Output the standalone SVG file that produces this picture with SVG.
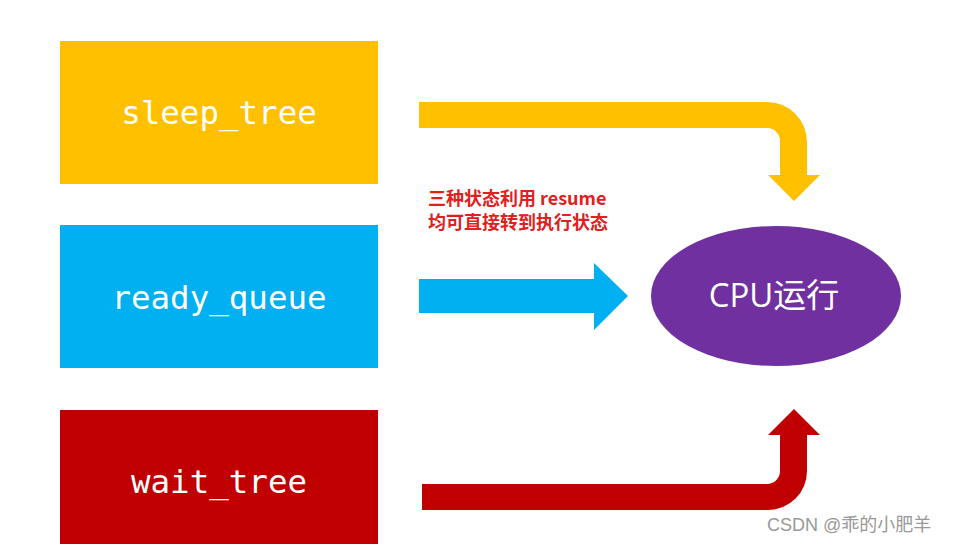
<svg xmlns="http://www.w3.org/2000/svg" width="954" height="544" viewBox="0 0 954 544">
<style>
.lbl{font-family:"DejaVu Sans Mono","Liberation Mono",monospace;font-size:32.5px;fill:#fff;text-anchor:middle}
.note{font-family:"Noto Sans CJK SC","Noto Sans",sans-serif;font-size:18px;font-weight:bold;fill:#E02020}
.cpu{font-family:"Open Sans","Noto Sans CJK SC",sans-serif;font-size:33px;fill:#fff;text-anchor:middle}
.wm{font-family:"Liberation Sans","Noto Sans CJK SC",sans-serif;font-size:18px;fill:#999}
</style>
<rect width="954" height="544" fill="#fff"/>
<g id="sleep_tree">
<rect x="60" y="41" width="318" height="143" fill="#FFC000"/>
<text class="lbl" x="219" y="124">sleep_tree</text>
</g>
<g id="ready_queue">
<rect x="60" y="225" width="318" height="143" fill="#00B0F0"/>
<text class="lbl" x="219" y="309">ready_queue</text>
</g>
<g id="wait_tree">
<rect x="60" y="410" width="318" height="134" fill="#C00000"/>
<text class="lbl" x="219" y="493">wait_tree</text>
</g>
<g id="cpu">
<ellipse cx="776" cy="296" rx="125" ry="70" fill="#7030A0"/>
<text class="cpu" x="774" y="307">CPU运行</text>
</g>
<g id="connectors">
<path d="M419 102 H767 A40 40 0 0 1 807 142 V175 H820 L794 201 L768 175 H780 V142 A13 13 0 0 0 767 128 H419 Z" fill="#FFC000"/>
<path d="M419 279 H594 V263 L628 296 L594 330 V313 H419 Z" fill="#00B0F0"/>
<path d="M422 484 H767 A13 13 0 0 0 780 471 V435 H768 L794 409 L820 435 H807 V471 A39 39 0 0 1 768 510 H422 Z" fill="#C00000"/>
</g>
<text class="note" x="428" y="205">三种状态利用 resume</text>
<text class="note" x="428" y="229">均可直接转到执行状态</text>
<text class="wm" x="767" y="531">CSDN @乖的小肥羊</text>
</svg>
